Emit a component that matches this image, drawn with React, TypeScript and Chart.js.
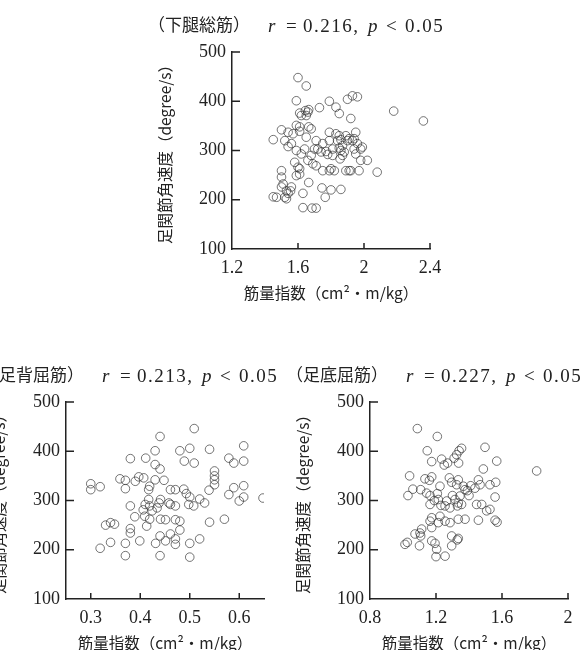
import React, { useEffect, useRef } from "react";
import { Chart, registerables } from "chart.js";

Chart.register(...registerables);

// ---- data ----
const yTickValues = [100, 200, 300, 400, 500];

const lowerLegXTicks = [1.2, 1.6, 2.0, 2.4];
const lowerLegX = [
  1.6, 1.65, 1.59, 1.79, 1.9, 1.93, 1.96, 1.83, 1.85, 1.73, 1.92, 2.18, 2.36, 1.645, 1.66, 1.65, 1.665, 1.62, 1.61,
  1.5, 1.54, 1.45, 1.52, 1.54, 1.56, 1.59, 1.61, 1.61, 1.665, 1.68, 1.57, 1.59, 1.62, 1.64, 1.66, 1.65, 1.71, 1.7,
  1.72, 1.74, 1.69, 1.71, 1.68, 1.75, 1.79, 1.79, 1.81, 1.83, 1.84, 1.85, 1.86, 1.87, 1.86, 1.87, 1.855, 1.88, 1.85,
  1.89, 1.9, 1.81, 1.78, 1.77, 1.8, 1.82, 1.79, 1.75, 1.91, 1.93, 1.95, 1.94, 1.96, 1.94, 1.99, 1.98, 1.95, 1.98,
  2.02, 2.08, 1.97, 1.91, 1.92, 1.89, 1.58, 1.6, 1.61, 1.59, 1.61, 1.5, 1.5, 1.51, 1.5, 1.56, 1.555, 1.45, 1.47,
  1.53, 1.52, 1.54, 1.53, 1.63, 1.665, 1.745, 1.8, 1.86, 1.765, 1.63, 1.685, 1.71,
];
const lowerLegY = [
  448, 431, 401, 400, 404, 411, 409, 388, 375, 387, 365, 380, 360, 381, 378, 371, 383, 371, 376,
  342, 337, 322, 320, 308, 314, 351, 348, 339, 348, 344, 334, 300, 293, 303, 280, 327, 320, 303,
  303, 297, 273, 269, 290, 314, 337, 320, 303, 334, 320, 330, 322, 310, 300, 290, 283, 297, 305,
  330, 320, 290, 292, 298, 263, 259, 259, 259, 324, 320, 337, 324, 314, 303, 307, 303, 293, 280,
  280, 256, 259, 259, 259, 259, 276, 266, 252, 249, 263, 259, 246, 232, 226, 226, 218, 206, 205,
  218, 205, 213, 202, 213, 235, 224, 220, 221, 205, 184, 183, 183,
];

const dorsiXTicks = [0.3, 0.4, 0.5, 0.6];
const dorsiX = [
  0.3, 0.3, 0.319, 0.38, 0.411, 0.44, 0.43, 0.43, 0.44, 0.48, 0.5, 0.489, 0.509, 0.54, 0.509, 0.609, 0.579, 0.589,
  0.609, 0.55, 0.55, 0.55, 0.55, 0.539, 0.589, 0.579, 0.609, 0.609, 0.6, 0.648, 0.359, 0.37, 0.37, 0.39, 0.397,
  0.407, 0.419, 0.417, 0.43, 0.448, 0.461, 0.471, 0.488, 0.493, 0.5, 0.498, 0.508, 0.52, 0.53, 0.458, 0.461, 0.471,
  0.441, 0.438, 0.434, 0.417, 0.419, 0.424, 0.41, 0.406, 0.38, 0.389, 0.38, 0.38, 0.409, 0.413, 0.419, 0.399,
  0.441, 0.451, 0.471, 0.48, 0.48, 0.44, 0.451, 0.461, 0.471, 0.471, 0.431, 0.5, 0.52, 0.54, 0.57, 0.33, 0.34,
  0.348, 0.34, 0.319, 0.37, 0.37, 0.44, 0.5,
];
const dorsiY = [
  334, 322, 328, 385, 386, 430, 401, 373, 364, 401, 406, 380, 376, 404, 446, 411, 386, 376,
  380, 360, 350, 342, 332, 321, 326, 312, 330, 307, 299, 305, 344, 341, 324, 339, 348,
  346, 329, 322, 342, 341, 322, 322, 323, 314, 307, 292, 289, 303, 295, 295, 292, 289,
  302, 295, 285, 302, 289, 279, 292, 281, 289, 267, 243, 234, 268, 248, 262, 218,
  262, 261, 261, 258, 240, 228, 218, 232, 222, 211, 213, 213, 222, 256, 262, 250, 255,
  252, 215, 203, 213, 188, 188, 185,
];

const plantarXTicks = [0.8, 1.2, 1.6, 2.0];
const plantarX = [
  1.087, 1.208, 1.147, 1.174, 1.234, 1.25, 1.27, 1.31, 1.325, 1.337, 1.355, 1.34, 1.497, 1.568, 1.487, 1.81, 1.04,
  1.06, 1.03, 1.133, 1.16, 1.174, 1.107, 1.143, 1.164, 1.164, 1.224, 1.208, 1.214, 1.281, 1.295, 1.335, 1.325,
  1.366, 1.376, 1.345, 1.315, 1.335, 1.33, 1.355, 1.265, 1.255, 1.285, 1.457, 1.436, 1.467, 1.527, 1.562, 1.558,
  1.477, 1.446, 1.507, 1.527, 1.457, 1.558, 1.57, 1.335, 1.376, 1.224, 1.255, 1.285, 1.214, 1.174, 1.164, 1.174,
  1.113, 1.073, 1.103, 1.107, 1.174, 1.194, 1.012, 1.026, 1.1, 1.295, 1.335, 1.329, 1.295, 1.204, 1.2, 1.255,
  1.39, 1.4, 1.3, 1.23, 1.19, 1.41,
];
const plantarY = [
  446, 430, 401, 379, 384, 372, 376, 386, 393, 376, 406, 401, 408, 380, 364, 360, 350,
  323, 310, 344, 341, 348, 322, 315, 310, 292, 329, 314, 302, 346, 337, 342, 332,
  329, 322, 309, 302, 295, 289, 292, 299, 289, 285, 342, 325, 332, 332, 337, 307,
  292, 292, 279, 282, 260, 260, 256, 262, 262, 268, 258, 255, 255, 265, 258, 245,
  242, 232, 234, 228, 218, 213, 211, 215, 208, 228, 223, 220, 208, 201, 186, 187,
  320, 310, 310, 290, 300, 330,
];

const yTitle = "足関節角速度（degree/s）";
const xTitle = "筋量指数（cm²・m/kg）";

// ---- panel ----
const SERIF = '"Liberation Serif", "Times New Roman", serif';
const CJK = '"Noto Sans CJK JP", sans-serif';
const INK = "#222";

type Spec = {
  left: number;
  top: number;
  xMin: number;
  xMax: number;
  xTicks: number[];
  xs: number[];
  ys: number[];
  muscle: string;
  r: string;
};

function Panel({ spec }: { spec: Spec }) {
  const ref = useRef<HTMLCanvasElement>(null);
  useEffect(() => {
    const canvas = ref.current;
    if (!canvas) return;

    const decor = {
      id: "decor",
      afterDraw(chart: any) {
        const { ctx, chartArea, scales } = chart;
        const L = chartArea.left;
        const T = chartArea.top;
        const B = chartArea.bottom;
        ctx.save();
        // inward tick marks
        ctx.strokeStyle = INK;
        ctx.lineWidth = 1.5;
        ctx.beginPath();
        for (const t of scales.x.ticks) {
          if (Math.abs(t.value - scales.x.min) < 1e-9) continue;
          const px = scales.x.getPixelForValue(t.value);
          ctx.moveTo(px, B);
          ctx.lineTo(px, B - 6);
        }
        for (const t of scales.y.ticks) {
          if (Math.abs(t.value - scales.y.min) < 1e-9) continue;
          const py = scales.y.getPixelForValue(t.value);
          ctx.moveTo(L, py);
          ctx.lineTo(L + 8, py);
        }
        ctx.stroke();
        // header
        ctx.fillStyle = INK;
        ctx.textBaseline = "middle";
        ctx.textAlign = "left";
        ctx.font = `17px ${CJK}`;
        ctx.fillText(spec.muscle, L - 84, T - 27);
        const hy = T - 25;
        ctx.font = `italic 19px ${SERIF}`;
        ctx.fillText("r", L + 36, hy);
        ctx.fillText("p", L + 136, hy);
        ctx.font = `19px ${SERIF}`;
        ctx.fillText("=", L + 54, hy);
        ctx.fillText("<", L + 154, hy);
        try { (ctx as any).letterSpacing = "1.5px"; } catch (e) {}
        ctx.fillText(spec.r + ",", L + 71, hy);
        ctx.fillText("0.05", L + 173, hy);
        ctx.restore();
      },
    };

    const fmt = (v: any) => String(Number(Number(v).toFixed(2)));

    const chart = new Chart(canvas, {
      type: "scatter",
      data: {
        datasets: [
          {
            data: spec.xs.map((x, i) => ({ x, y: spec.ys[i] })),
            pointRadius: 4.3,
            pointBorderWidth: 0.8,
            borderColor: "rgba(50,50,50,0.85)",
            backgroundColor: "rgba(0,0,0,0)",
            pointBackgroundColor: "rgba(0,0,0,0)",
            pointBorderColor: "rgba(50,50,50,0.85)",
          },
        ],
      },
      options: {
        responsive: false,
        animation: false,
        events: [],
        layout: { padding: { top: 52, right: 20, left: 0, bottom: 0 } },
        plugins: { legend: { display: false }, tooltip: { enabled: false }, title: { display: false } },
        scales: {
          x: {
            type: "linear",
            min: spec.xMin,
            max: spec.xMax,
            afterBuildTicks: (s: any) => {
              s.ticks = spec.xTicks.map((v) => ({ value: v }));
            },
            afterFit: (s: any) => {
              s.height = 56;
            },
            grid: { display: false, drawTicks: false },
            border: { display: true, color: INK, width: 1.5 },
            ticks: { padding: 8, color: INK, font: { family: SERIF, size: 18 }, callback: fmt, maxRotation: 0 },
            title: { display: true, text: xTitle, color: INK, padding: 3, font: { family: CJK, size: 15.5 } },
          },
          y: {
            type: "linear",
            min: 100,
            max: 500,
            afterBuildTicks: (s: any) => {
              s.ticks = yTickValues.map((v) => ({ value: v }));
            },
            afterFit: (s: any) => {
              s.width = 82;
            },
            grid: { display: false, drawTicks: false },
            border: { display: true, color: INK, width: 1.5 },
            ticks: { padding: 6, color: INK, font: { family: SERIF, size: 18 } },
            title: { display: true, text: yTitle, color: INK, padding: 6, font: { family: CJK, size: 15.5 } },
          },
        },
      },
      plugins: [decor],
    } as any);
    return () => chart.destroy();
  }, [spec]);

  return (
    <canvas
      ref={ref}
      width={300}
      height={305}
      style={{ position: "absolute", left: spec.left, top: spec.top, width: 300, height: 305 }}
    />
  );
}

const panels: Spec[] = [
  { left: 150, top: 0, xMin: 1.2, xMax: 2.4, xTicks: lowerLegXTicks, xs: lowerLegX, ys: lowerLegY, muscle: "（下腿総筋）", r: "0.216" },
  { left: -16, top: 350, xMin: 0.25, xMax: 0.65, xTicks: dorsiXTicks, xs: dorsiX, ys: dorsiY, muscle: "（足背屈筋）", r: "0.213" },
  { left: 288, top: 350, xMin: 0.8, xMax: 2.0, xTicks: plantarXTicks, xs: plantarX, ys: plantarY, muscle: "（足底屈筋）", r: "0.227" },
];

export default function App() {
  return (
    <div style={{ position: "fixed", left: 0, top: 0, width: 580, height: 650, overflow: "hidden", background: "#fff" }}>
      {panels.map((p, i) => (
        <Panel key={i} spec={p} />
      ))}
    </div>
  );
}
